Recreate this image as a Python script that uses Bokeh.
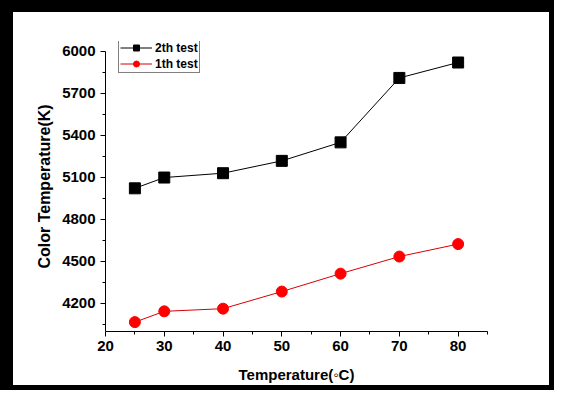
from bokeh.plotting import figure
from bokeh.layouts import column
from bokeh.models import FixedTicker, Range1d, Legend, LegendItem
from bokeh.embed import file_html
from bokeh.resources import INLINE

# Data
temperature = [25, 30, 40, 50, 60, 70, 80]
test2 = [5022, 5099, 5130, 5218, 5350, 5810, 5920]
test1 = [4067, 4144, 4163, 4285, 4413, 4535, 4624]
x_major = [20, 30, 40, 50, 60, 70, 80]
x_minor = [25, 35, 45, 55, 65, 75, 85]
y_major = [4200, 4500, 4800, 5100, 5400, 5700, 6000]
y_minor = [4050, 4350, 4650, 4950, 5250, 5550, 5850]

FONT = "Liberation Sans"

p = figure(width=536, height=373, output_backend="svg", toolbar_location=None,
           x_range=Range1d(20, 85), y_range=Range1d(4000, 6070),
           min_border_left=92, min_border_right=62, min_border_top=29, min_border_bottom=51)
p.xgrid.visible = False
p.ygrid.visible = False
p.outline_line_color = None
p.background_fill_color = "white"
p.border_fill_color = "white"

l2 = p.line(temperature, test2, line_color="black", line_width=1)
s2 = p.scatter(temperature, test2, marker="square", size=11, fill_color="black", line_color="black")
l1 = p.line(temperature, test1, line_color="#d80000", line_width=1)
s1 = p.scatter(temperature, test1, marker="circle", size=11, fill_color="#ff0000", line_color="#ff0000")

for ax in (p.xaxis[0], p.yaxis[0]):
    ax.axis_line_color = "black"
    ax.axis_line_width = 1
    ax.major_tick_in = 0
    ax.major_tick_out = 5
    ax.minor_tick_in = 0
    ax.minor_tick_out = 3
    ax.major_tick_line_color = "black"
    ax.minor_tick_line_color = "black"
    ax.major_label_text_font = FONT
    ax.major_label_text_font_style = "bold"
    ax.major_label_text_font_size = "15px"
    ax.major_label_text_color = "black"
    ax.axis_label_text_font = FONT
    ax.axis_label_text_font_style = "bold"
    ax.axis_label_text_color = "black"

p.xaxis[0].ticker = FixedTicker(ticks=x_major, minor_ticks=x_minor)
p.yaxis[0].ticker = FixedTicker(ticks=y_major, minor_ticks=y_minor)
p.yaxis[0].bounds = (4000, 6000)
p.xaxis[0].axis_label = "Temperature(\u25e6C)"
p.xaxis[0].axis_label_text_font_size = "15px"
p.xaxis[0].major_label_standoff = 4
p.xaxis[0].axis_label_standoff = 12
p.yaxis[0].axis_label = "Color Temperature(K)"
p.yaxis[0].axis_label_text_font_size = "16px"
p.yaxis[0].major_label_standoff = 5
p.yaxis[0].axis_label_standoff = 6

legend = Legend(items=[LegendItem(label="2th test", renderers=[l2, s2]),
                       LegendItem(label="1th test", renderers=[l1, s1])],
                location=(13, 258), orientation="vertical")
legend.label_text_font = FONT
legend.label_text_font_style = "bold"
legend.label_text_font_size = "12px"
legend.label_text_color = "black"
legend.glyph_width = 32
legend.glyph_height = 15
legend.label_height = 15
legend.label_standoff = 3
legend.padding = 1
legend.spacing = 1
legend.margin = 0
legend.border_line_color = "black"
legend.border_line_width = 1
legend.background_fill_color = "white"
legend.background_fill_alpha = 1
p.add_layout(legend, "center")

layout = column(p, styles={"border-style": "solid", "border-color": "black",
                           "border-width": "12px 5px 5px 13px", "background-color": "white"})

open("out.html", "w").write(file_html(layout, INLINE))
